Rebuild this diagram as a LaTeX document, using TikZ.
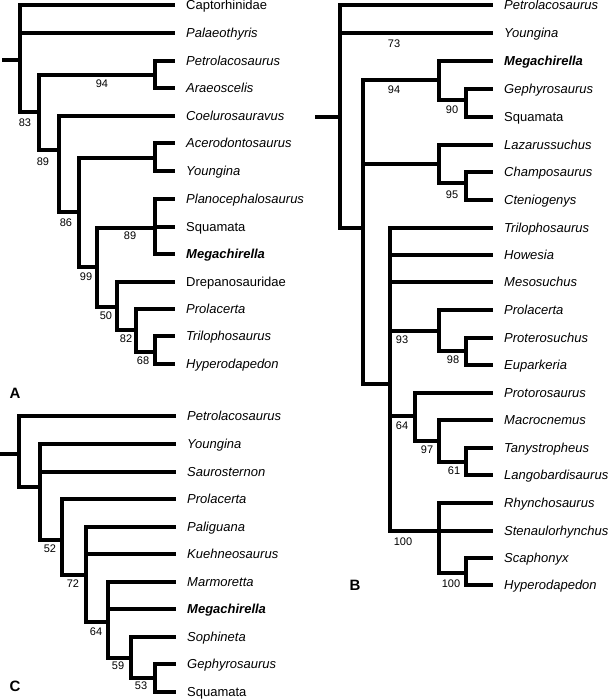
\documentclass[tikz,border=0pt]{standalone}
\usepackage{fontspec}
\setmainfont{Liberation Sans}
\begin{document}
\begin{tikzpicture}[x=1pt,y=-1pt,
  br/.style={line width=3.2pt},
  leaf/.style={anchor=west,inner xsep=11pt,inner ysep=0pt,text height=9.3pt,text depth=0pt,font=\fontsize{13}{15}\selectfont},
  ileaf/.style={leaf,font=\fontsize{13}{15}\selectfont\itshape},
  bleaf/.style={leaf,font=\fontsize{13}{15}\selectfont\itshape\bfseries},
  bsv/.style={inner sep=0pt,text height=7.9pt,text depth=0pt,font=\fontsize{11}{13}\selectfont},
  panel/.style={inner sep=0pt,text height=10.7pt,text depth=0pt,font=\fontsize{15}{17}\selectfont\bfseries}]
\useasboundingbox (0,0) rectangle (609,700);

% ---------------- Panel A ----------------
\node[leaf]  (aCap) at (175,5)   {Captorhinidae};
\node[ileaf] (aPal) at (175,33)  {Palaeothyris};
\node[ileaf] (aPet) at (175,61)  {Petrolacosaurus};
\node[ileaf] (aAra) at (175,88)  {Araeoscelis};
\node[ileaf] (aCoe) at (175,116) {Coelurosauravus};
\node[ileaf] (aAce) at (175,143) {Acerodontosaurus};
\node[ileaf] (aYou) at (175,171) {Youngina};
\node[ileaf] (aPla) at (175,199) {Planocephalosaurus};
\node[leaf]  (aSqu) at (175,227) {Squamata};
\node[bleaf] (aMeg) at (175,254) {Megachirella};
\node[leaf]  (aDre) at (175,282) {Drepanosauridae};
\node[ileaf] (aPro) at (175,309) {Prolacerta};
\node[ileaf] (aTri) at (175,336) {Trilophosaurus};
\node[ileaf] (aHyp) at (175,364) {Hyperodapedon};

\coordinate (a0s) at (2,60);
\coordinate (a0)  at (20,60);
\coordinate (a83) at (39,112);
\coordinate (a94) at (155,75);
\coordinate (a89) at (59,150);
\coordinate (a86) at (79,212);
\coordinate (aAY) at (155,158);
\coordinate (a99) at (97,267);
\coordinate (a89b) at (155,228);
\coordinate (a50) at (117,307);
\coordinate (a82) at (136,330);
\coordinate (a68) at (155,352);

\draw[br] (a0s) -- (a0);
\draw[br] (a0) |- (aCap.west);
\draw[br] (a0) |- (aPal.west);
\draw[br] (a0) |- (a83);
\draw[br] (a83) |- (a94);
\draw[br] (a83) |- (a89);
\draw[br] (a94) |- (aPet.west);
\draw[br] (a94) |- (aAra.west);
\draw[br] (a89) |- (aCoe.west);
\draw[br] (a89) |- (a86);
\draw[br] (a86) |- (aAY);
\draw[br] (a86) |- (a99);
\draw[br] (aAY) |- (aAce.west);
\draw[br] (aAY) |- (aYou.west);
\draw[br] (a99) |- (a89b);
\draw[br] (a99) |- (a50);
\draw[br] (a89b) |- (aPla.west);
\draw[br] (a89b) |- (aSqu.west);
\draw[br] (a89b) |- (aMeg.west);
\draw[br] (a50) |- (aDre.west);
\draw[br] (a50) |- (a82);
\draw[br] (a82) |- (aPro.west);
\draw[br] (a82) |- (a68);
\draw[br] (a68) |- (aTri.west);
\draw[br] (a68) |- (aHyp.west);

\node[bsv] (la83) at (25,123) {83};
\node[bsv] (la94) at (102,84) {94};
\node[bsv] (la89) at (43,162) {89};
\node[bsv] (la86) at (66,223) {86};
\node[bsv] (la89b) at (130,236) {89};
\node[bsv] (la99) at (86,277) {99};
\node[bsv] (la50) at (106,316) {50};
\node[bsv] (la82) at (126,339) {82};
\node[bsv] (la68) at (143,361) {68};
\node[panel] (pA) at (15,393) {A};

% ---------------- Panel C ----------------
\node[ileaf] (cPet) at (176,416) {Petrolacosaurus};
\node[ileaf] (cYou) at (176,444) {Youngina};
\node[ileaf] (cSau) at (176,472) {Saurosternon};
\node[ileaf] (cPro) at (176,499) {Prolacerta};
\node[ileaf] (cPal) at (176,527) {Paliguana};
\node[ileaf] (cKue) at (176,554) {Kuehneosaurus};
\node[ileaf] (cMar) at (176,582) {Marmoretta};
\node[bleaf] (cMeg) at (176,609) {Megachirella};
\node[ileaf] (cSop) at (176,637) {Sophineta};
\node[ileaf] (cGep) at (176,664) {Gephyrosaurus};
\node[leaf]  (cSqu) at (176,692) {Squamata};

\coordinate (c0s) at (0,454);
\coordinate (c0)  at (19,454);
\coordinate (c1)  at (40,487);
\coordinate (c52) at (62,540);
\coordinate (c72) at (86,575);
\coordinate (c64) at (108,622);
\coordinate (c59) at (131,658);
\coordinate (c53) at (155,678);

\draw[br] (c0s) -- (c0);
\draw[br] (c0) |- (cPet.west);
\draw[br] (c0) |- (c1);
\draw[br] (c1) |- (cYou.west);
\draw[br] (c1) |- (cSau.west);
\draw[br] (c1) |- (c52);
\draw[br] (c52) |- (cPro.west);
\draw[br] (c52) |- (c72);
\draw[br] (c72) |- (cPal.west);
\draw[br] (c72) |- (cKue.west);
\draw[br] (c72) |- (c64);
\draw[br] (c64) |- (cMar.west);
\draw[br] (c64) |- (cMeg.west);
\draw[br] (c64) |- (c59);
\draw[br] (c59) |- (cSop.west);
\draw[br] (c59) |- (c53);
\draw[br] (c53) |- (cGep.west);
\draw[br] (c53) |- (cSqu.west);

\node[bsv] (lc52) at (50,549) {52};
\node[bsv] (lc72) at (73,584) {72};
\node[bsv] (lc64) at (96,632) {64};
\node[bsv] (lc59) at (118,666) {59};
\node[bsv] (lc53) at (141,686) {53};
\node[panel] (pC) at (15,686) {C};

% ---------------- Panel B ----------------
\node[ileaf] (bPet) at (493,5)   {Petrolacosaurus};
\node[ileaf] (bYou) at (493,33)  {Youngina};
\node[bleaf] (bMeg) at (493,61)  {Megachirella};
\node[ileaf] (bGep) at (493,89)  {Gephyrosaurus};
\node[leaf]  (bSqu) at (493,117) {Squamata};
\node[ileaf] (bLaz) at (493,145) {Lazarussuchus};
\node[ileaf] (bCha) at (493,172) {Champosaurus};
\node[ileaf] (bCte) at (493,200) {Cteniogenys};
\node[ileaf] (bTri) at (493,228) {Trilophosaurus};
\node[ileaf] (bHow) at (493,255) {Howesia};
\node[ileaf] (bMes) at (493,282) {Mesosuchus};
\node[ileaf] (bPro) at (493,310) {Prolacerta};
\node[ileaf] (bPte) at (493,338) {Proterosuchus};
\node[ileaf] (bEup) at (493,365) {Euparkeria};
\node[ileaf] (bPtr) at (493,393) {Protorosaurus};
\node[ileaf] (bMac) at (493,420) {Macrocnemus};
\node[ileaf] (bTan) at (493,448) {Tanystropheus};
\node[ileaf] (bLan) at (493,475) {Langobardisaurus};
\node[ileaf] (bRhy) at (493,503) {Rhynchosaurus};
\node[ileaf] (bSte) at (493,531) {Stenaulorhynchus};
\node[ileaf] (bSca) at (493,558) {Scaphonyx};
\node[ileaf] (bHyp) at (493,585) {Hyperodapedon};

\coordinate (b0s) at (315,117);
\coordinate (b0)  at (340,117);
\coordinate (b1)  at (363,228);
\coordinate (b94) at (439,80);
\coordinate (b90) at (466,100);
\coordinate (bLZ) at (439,164);
\coordinate (b95) at (466,183);
\coordinate (b2)  at (390,384);
\coordinate (b93) at (439,331);
\coordinate (b98) at (466,351);
\coordinate (b64) at (415,416);
\coordinate (b97) at (439,441);
\coordinate (b61) at (466,462);
\coordinate (b100) at (439,531);
\coordinate (b100b) at (466,573);

\draw[br] (b0s) -- (b0);
\draw[br] (b0) |- (bPet.west);
\draw[br] (b0) |- (bYou.west);
\draw[br] (b0) |- (b1);
\draw[br] (b1) |- (b94);
\draw[br] (b1) |- (bLZ);
\draw[br] (b1) |- (b2);
\draw[br] (b94) |- (bMeg.west);
\draw[br] (b94) |- (b90);
\draw[br] (b90) |- (bGep.west);
\draw[br] (b90) |- (bSqu.west);
\draw[br] (bLZ) |- (bLaz.west);
\draw[br] (bLZ) |- (b95);
\draw[br] (b95) |- (bCha.west);
\draw[br] (b95) |- (bCte.west);
\draw[br] (b2) |- (bTri.west);
\draw[br] (b2) |- (bHow.west);
\draw[br] (b2) |- (bMes.west);
\draw[br] (b2) |- (b93);
\draw[br] (b2) |- (b64);
\draw[br] (b2) |- (b100);
\draw[br] (b93) |- (bPro.west);
\draw[br] (b93) |- (b98);
\draw[br] (b98) |- (bPte.west);
\draw[br] (b98) |- (bEup.west);
\draw[br] (b64) |- (bPtr.west);
\draw[br] (b64) |- (b97);
\draw[br] (b97) |- (bMac.west);
\draw[br] (b97) |- (b61);
\draw[br] (b61) |- (bTan.west);
\draw[br] (b61) |- (bLan.west);
\draw[br] (b100) |- (bRhy.west);
\draw[br] (b100) -- (bSte.west);
\draw[br] (b100) |- (b100b);
\draw[br] (b100b) |- (bSca.west);
\draw[br] (b100b) |- (bHyp.west);

\node[bsv] (lb73) at (394,44) {73};
\node[bsv] (lb94) at (394,90) {94};
\node[bsv] (lb90) at (452,110) {90};
\node[bsv] (lb95) at (452,195) {95};
\node[bsv] (lb93) at (402,340) {93};
\node[bsv] (lb98) at (453,360) {98};
\node[bsv] (lb64) at (402,426) {64};
\node[bsv] (lb97) at (427,450) {97};
\node[bsv] (lb61) at (454,471) {61};
\node[bsv] (lb100) at (403,542) {100};
\node[bsv] (lb100b) at (451,584) {100};
\node[panel] (pB) at (355,585) {B};
\end{tikzpicture}
\end{document}
